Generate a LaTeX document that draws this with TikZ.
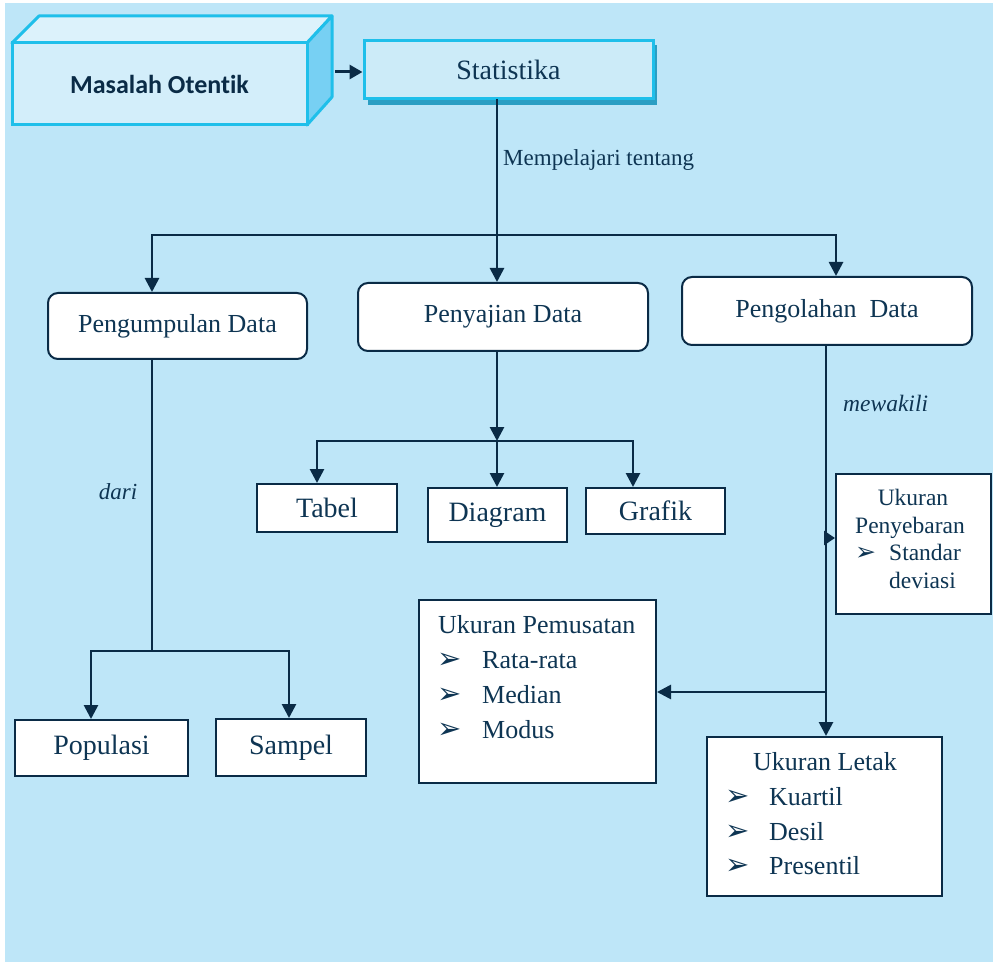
\documentclass[tikz,border=0pt]{standalone}
\usepackage{fontspec}
\setmainfont{Liberation Serif}
\newfontfamily\calfont[Ligatures=NoCommon]{Carlito}
\newfontfamily\dejafont{DejaVu Sans}
\usetikzlibrary{arrows.meta}
\definecolor{bgblue}{HTML}{BEE6F8}
\definecolor{navy}{HTML}{0A2B46}
\definecolor{txt}{HTML}{0E3553}
\definecolor{cyanb}{HTML}{1FBFEA}
\definecolor{frontc}{HTML}{D3EEFA}
\definecolor{topc}{HTML}{DCF2FB}
\definecolor{sidec}{HTML}{77D0F3}
\definecolor{statc}{HTML}{CCEBF8}
\definecolor{shadc}{HTML}{2B9EC3}
\newcommand{\bul}{{\dejafont\fontsize{29}{30}\selectfont ➢}}
\begin{document}
\begin{tikzpicture}[x=1pt,y=-1pt,
  ln/.style={draw=navy, line width=2.7pt},
  arr/.style={ln, -{Triangle[length=14pt,width=14pt]}},
  rbox/.style={draw=navy, line width=2pt, fill=white, rounded corners=10pt, inner sep=0pt, text=txt, font=\fontsize{26}{30}\selectfont},
  sbox/.style={draw=navy, line width=2pt, fill=white, inner sep=0pt, text=txt, font=\fontsize{28}{32}\selectfont},
  lbox/.style={draw=navy, line width=2pt, fill=white, inner sep=0pt},
  lt/.style={text=txt, font=\fontsize{26}{30}\selectfont, inner sep=0pt},
  st/.style={text=txt, font=\fontsize{23.5}{27}\selectfont, inner sep=0pt},
  lab/.style={text=txt, font=\fontsize{23}{27}\selectfont, inner sep=0pt}]
\useasboundingbox (0,0) rectangle (993,965);
\fill[white] (0,0) rectangle (993,965);
\fill[bgblue] (5,3) rectangle (993,962);

% Masalah Otentik 3D box
\filldraw[fill=topc, draw=cyanb, line width=3pt, line join=round] (12,43) -- (39,16) -- (332,16) -- (307,43) -- cycle;
\filldraw[fill=sidec, draw=cyanb, line width=3pt, line join=round] (307,43) -- (332,16) -- (332,97) -- (307,125) -- cycle;
\node[draw=cyanb, line width=3pt, fill=frontc, minimum width=295pt, minimum height=82pt, inner sep=0pt,
  text=navy, font=\calfont\bfseries\fontsize{26}{30}\selectfont] (mo) at (159.5,84) {Masalah Otentik};

% Statistika
\fill[shadc] (368,45) rectangle (657,105);
\node[draw=cyanb, line width=3pt, fill=statc, minimum width=289pt, minimum height=58pt, inner sep=0pt,
  text=txt, font=\fontsize{28}{32}\selectfont] (sta) at (508.5,70) {Statistika};
\coordinate (m0) at (335,72);
\draw[navy, line width=3pt, -{Triangle[length=13pt,width=14pt]}] (m0) -- (m0 -| sta.west);

% level 1
\node[rbox, minimum width=259pt, minimum height=66pt] (pg) at (177.5,326) {Pengumpulan Data};
\node[rbox, minimum width=290pt, minimum height=68pt] (pj) at (503,317) {Penyajian Data};
\node[rbox, minimum width=290pt, minimum height=68pt] (po) at (827,311) {Pengolahan\ \ Data};

\coordinate (s0) at (497,99);
\coordinate (t1) at (497,235);
\coordinate (hl) at (152,235);
\coordinate (hr) at (836,235);
\draw[arr] (s0) -- (s0 |- pj.north);
\draw[arr] (t1) -| (hl |- pg.north);
\draw[arr] (t1) -| (hr |- po.north);
\node[lab, anchor=base west] (mt) at (503,166) {Mempelajari tentang};

% Penyajian children
\node[sbox, minimum width=140pt, minimum height=48pt] (tb) at (327,508) {Tabel};
\node[sbox, minimum width=139pt, minimum height=54pt] (dg) at (497.5,515) {Diagram};
\node[sbox, minimum width=139pt, minimum height=46pt] (gf) at (655.5,511) {Grafik};
\coordinate (t2) at (497,441);
\coordinate (b1) at (317,441);
\coordinate (b3) at (633,441);
\draw[arr] (s0 |- pj.south) -- (t2);
\draw[arr] (t2) -| (b1 |- tb.north);
\draw[arr] (t2) -| (b3 |- gf.north);
\draw[arr] (t2) -- (t2 |- dg.north);

% Pengumpulan children
\node[sbox, minimum width=173pt, minimum height=56pt] (pp) at (101.5,748) {Populasi};
\node[sbox, minimum width=150pt, minimum height=57pt] (sp) at (291,747.5) {Sampel};
\coordinate (t3) at (152,651);
\coordinate (c1) at (91,651);
\coordinate (c2) at (289,651);
\draw[ln] (hl |- pg.south) -- (t3);
\draw[arr] (t3) -| (c1 |- pp.north);
\draw[arr] (t3) -| (c2 |- sp.north);
\node[lab, font=\itshape\fontsize{23}{27}\selectfont, anchor=base] (dr) at (118,499) {dari};

% Pengolahan children
\node[lbox, minimum width=155pt, minimum height=140pt] (pb) at (913.5,544) {};
\node[lbox, minimum width=237pt, minimum height=183pt] (pm) at (537.5,691.5) {};
\node[lbox, minimum width=235pt, minimum height=159pt] (lk) at (824.5,816.5) {};
\coordinate (v0) at (826,345);
\coordinate (j1) at (826,538);
\coordinate (j2) at (826,692);
\draw[arr] (v0) -- (v0 |- lk.north);
\draw[ln, -{Triangle[length=11pt,width=14pt]}] (j1) -- (j1 -| pb.west);
\draw[arr] (j2) -- (j2 -| pm.east);
\node[lab, font=\itshape\fontsize{23.5}{27}\selectfont, anchor=base west] (mw) at (843,411) {mewakili};

% Penyebaran text
\node[st, anchor=base] (pb1) at (913,505) {Ukuran};
\node[st, anchor=base] (pb2) at (910,533) {Penyebaran};
\node[st, anchor=base west, font=\fontsize{26}{27}\selectfont] (pb3b) at (855,560) {{\dejafont\fontsize{25}{27}\selectfont ➢}};
\node[st, anchor=base west] (pb3) at (889,560) {Standar};
\node[st, anchor=base west] (pb4) at (889,588) {deviasi};

% Pemusatan text
\node[lt, anchor=base west] (pm1) at (438,633) {Ukuran Pemusatan};
\node[lt, anchor=base west] (pm2b) at (437,668) {\bul};
\node[lt, anchor=base west] (pm2) at (482,668) {Rata-rata};
\node[lt, anchor=base west] (pm3b) at (437,703) {\bul};
\node[lt, anchor=base west] (pm3) at (482,703) {Median};
\node[lt, anchor=base west] (pm4b) at (437,738) {\bul};
\node[lt, anchor=base west] (pm4) at (482,738) {Modus};

% Letak text
\node[lt, anchor=base] (lk1) at (825,770) {Ukuran Letak};
\node[lt, anchor=base west] (lk2b) at (725,805) {\bul};
\node[lt, anchor=base west] (lk2) at (769,805) {Kuartil};
\node[lt, anchor=base west] (lk3b) at (725,840) {\bul};
\node[lt, anchor=base west] (lk3) at (769,840) {Desil};
\node[lt, anchor=base west] (lk4b) at (725,874) {\bul};
\node[lt, anchor=base west] (lk4) at (769,874) {Presentil};
\end{tikzpicture}
\end{document}
